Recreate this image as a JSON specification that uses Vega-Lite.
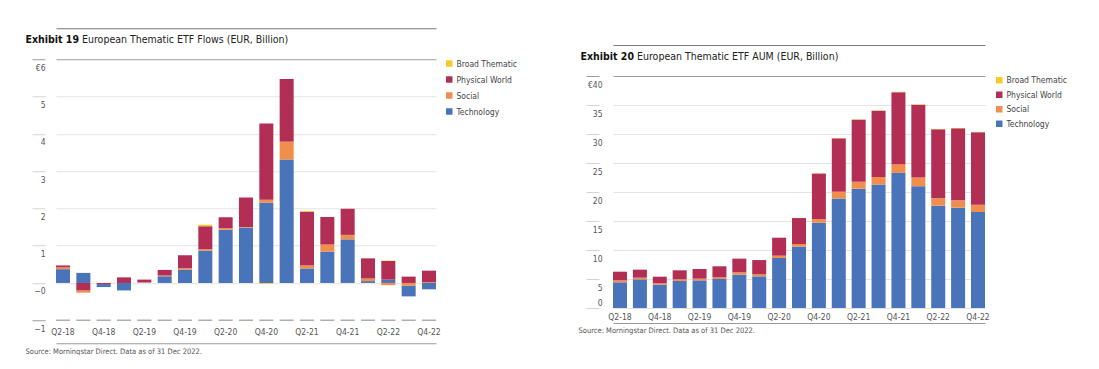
{
  "$schema": "https://vega.github.io/schema/vega-lite/v6.json",
  "padding": {"left": 25, "top": 28, "right": 0, "bottom": 0},
  "background": "white",
  "spacing": 60,
  "center": true,
  "config": {
    "font": "Liberation Sans Narrow, DejaVu Sans Condensed, Roboto, sans-serif",
    "view": {"stroke": null},
    "axis": {"labelFont": "Liberation Sans Narrow, DejaVu Sans Condensed, Roboto, sans-serif", "titleFont": "Liberation Sans Narrow, DejaVu Sans Condensed, Roboto, sans-serif", "labelColor": "#555555", "labelFontSize": 8.5, "titleFontWeight": "normal", "titleColor": "#222222", "titleFontSize": 10.5, "labelOverlap": false},
    "legend": {"labelFont": "Liberation Sans Narrow, DejaVu Sans Condensed, Roboto, sans-serif", "labelFontSize": 8.5, "labelColor": "#444444"}
  },
  "resolve": {"legend": {"color": "independent"}, "scale": {"color": "independent"}},
  "datasets": {
    "flows": [
      {"quarter": "Q2-18", "series": "Technology", "value": 0.37}, {"quarter": "Q2-18", "series": "Social", "value": 0.05}, {"quarter": "Q2-18", "series": "Physical World", "value": 0.05}, {"quarter": "Q2-18", "series": "Broad Thematic", "value": 0},
      {"quarter": "Q3-18", "series": "Technology", "value": 0.27}, {"quarter": "Q3-18", "series": "Social", "value": -0.06}, {"quarter": "Q3-18", "series": "Physical World", "value": -0.2}, {"quarter": "Q3-18", "series": "Broad Thematic", "value": 0},
      {"quarter": "Q4-18", "series": "Technology", "value": -0.08}, {"quarter": "Q4-18", "series": "Social", "value": 0}, {"quarter": "Q4-18", "series": "Physical World", "value": -0.03}, {"quarter": "Q4-18", "series": "Broad Thematic", "value": 0},
      {"quarter": "Q1-19", "series": "Technology", "value": -0.2}, {"quarter": "Q1-19", "series": "Social", "value": 0}, {"quarter": "Q1-19", "series": "Physical World", "value": 0.15}, {"quarter": "Q1-19", "series": "Broad Thematic", "value": 0},
      {"quarter": "Q2-19", "series": "Technology", "value": 0.01}, {"quarter": "Q2-19", "series": "Social", "value": 0.01}, {"quarter": "Q2-19", "series": "Physical World", "value": 0.07}, {"quarter": "Q2-19", "series": "Broad Thematic", "value": 0},
      {"quarter": "Q3-19", "series": "Technology", "value": 0.18}, {"quarter": "Q3-19", "series": "Social", "value": 0.02}, {"quarter": "Q3-19", "series": "Physical World", "value": 0.15}, {"quarter": "Q3-19", "series": "Broad Thematic", "value": 0},
      {"quarter": "Q4-19", "series": "Technology", "value": 0.36}, {"quarter": "Q4-19", "series": "Social", "value": 0.04}, {"quarter": "Q4-19", "series": "Physical World", "value": 0.34}, {"quarter": "Q4-19", "series": "Broad Thematic", "value": 0},
      {"quarter": "Q1-20", "series": "Technology", "value": 0.87}, {"quarter": "Q1-20", "series": "Social", "value": 0.04}, {"quarter": "Q1-20", "series": "Physical World", "value": 0.61}, {"quarter": "Q1-20", "series": "Broad Thematic", "value": 0.04},
      {"quarter": "Q2-20", "series": "Technology", "value": 1.43}, {"quarter": "Q2-20", "series": "Social", "value": 0.04}, {"quarter": "Q2-20", "series": "Physical World", "value": 0.29}, {"quarter": "Q2-20", "series": "Broad Thematic", "value": 0},
      {"quarter": "Q3-20", "series": "Technology", "value": 1.49}, {"quarter": "Q3-20", "series": "Social", "value": 0.01}, {"quarter": "Q3-20", "series": "Physical World", "value": 0.79}, {"quarter": "Q3-20", "series": "Broad Thematic", "value": 0},
      {"quarter": "Q4-20", "series": "Technology", "value": 2.15}, {"quarter": "Q4-20", "series": "Social", "value": 0.08}, {"quarter": "Q4-20", "series": "Physical World", "value": 2.05}, {"quarter": "Q4-20", "series": "Broad Thematic", "value": -0.02},
      {"quarter": "Q1-21", "series": "Technology", "value": 3.31}, {"quarter": "Q1-21", "series": "Social", "value": 0.48}, {"quarter": "Q1-21", "series": "Physical World", "value": 1.68}, {"quarter": "Q1-21", "series": "Broad Thematic", "value": 0},
      {"quarter": "Q2-21", "series": "Technology", "value": 0.39}, {"quarter": "Q2-21", "series": "Social", "value": 0.08}, {"quarter": "Q2-21", "series": "Physical World", "value": 1.44}, {"quarter": "Q2-21", "series": "Broad Thematic", "value": 0.02},
      {"quarter": "Q3-21", "series": "Technology", "value": 0.84}, {"quarter": "Q3-21", "series": "Social", "value": 0.19}, {"quarter": "Q3-21", "series": "Physical World", "value": 0.74}, {"quarter": "Q3-21", "series": "Broad Thematic", "value": 0},
      {"quarter": "Q4-21", "series": "Technology", "value": 1.17}, {"quarter": "Q4-21", "series": "Social", "value": 0.12}, {"quarter": "Q4-21", "series": "Physical World", "value": 0.7}, {"quarter": "Q4-21", "series": "Broad Thematic", "value": 0},
      {"quarter": "Q1-22", "series": "Technology", "value": 0.05}, {"quarter": "Q1-22", "series": "Social", "value": 0.07}, {"quarter": "Q1-22", "series": "Physical World", "value": 0.54}, {"quarter": "Q1-22", "series": "Broad Thematic", "value": 0},
      {"quarter": "Q2-22", "series": "Technology", "value": 0.09}, {"quarter": "Q2-22", "series": "Social", "value": -0.06}, {"quarter": "Q2-22", "series": "Physical World", "value": 0.5}, {"quarter": "Q2-22", "series": "Broad Thematic", "value": 0.01},
      {"quarter": "Q3-22", "series": "Technology", "value": -0.29}, {"quarter": "Q3-22", "series": "Social", "value": -0.07}, {"quarter": "Q3-22", "series": "Physical World", "value": 0.17}, {"quarter": "Q3-22", "series": "Broad Thematic", "value": 0},
      {"quarter": "Q4-22", "series": "Technology", "value": -0.17}, {"quarter": "Q4-22", "series": "Social", "value": 0.02}, {"quarter": "Q4-22", "series": "Physical World", "value": 0.31}, {"quarter": "Q4-22", "series": "Broad Thematic", "value": 0}
    ],
    "aum": [
      {"quarter": "Q2-18", "series": "Technology", "value": 4.43}, {"quarter": "Q2-18", "series": "Social", "value": 0.34}, {"quarter": "Q2-18", "series": "Physical World", "value": 1.49}, {"quarter": "Q2-18", "series": "Broad Thematic", "value": 0},
      {"quarter": "Q3-18", "series": "Technology", "value": 4.94}, {"quarter": "Q3-18", "series": "Social", "value": 0.29}, {"quarter": "Q3-18", "series": "Physical World", "value": 1.38}, {"quarter": "Q3-18", "series": "Broad Thematic", "value": 0},
      {"quarter": "Q4-18", "series": "Technology", "value": 4.02}, {"quarter": "Q4-18", "series": "Social", "value": 0.23}, {"quarter": "Q4-18", "series": "Physical World", "value": 1.15}, {"quarter": "Q4-18", "series": "Broad Thematic", "value": 0},
      {"quarter": "Q1-19", "series": "Technology", "value": 4.66}, {"quarter": "Q1-19", "series": "Social", "value": 0.29}, {"quarter": "Q1-19", "series": "Physical World", "value": 1.55}, {"quarter": "Q1-19", "series": "Broad Thematic", "value": 0},
      {"quarter": "Q2-19", "series": "Technology", "value": 4.77}, {"quarter": "Q2-19", "series": "Social", "value": 0.29}, {"quarter": "Q2-19", "series": "Physical World", "value": 1.67}, {"quarter": "Q2-19", "series": "Broad Thematic", "value": 0},
      {"quarter": "Q3-19", "series": "Technology", "value": 5.0}, {"quarter": "Q3-19", "series": "Social", "value": 0.29}, {"quarter": "Q3-19", "series": "Physical World", "value": 1.9}, {"quarter": "Q3-19", "series": "Broad Thematic", "value": 0},
      {"quarter": "Q4-19", "series": "Technology", "value": 5.75}, {"quarter": "Q4-19", "series": "Social", "value": 0.4}, {"quarter": "Q4-19", "series": "Physical World", "value": 2.36}, {"quarter": "Q4-19", "series": "Broad Thematic", "value": 0},
      {"quarter": "Q1-20", "series": "Technology", "value": 5.46}, {"quarter": "Q1-20", "series": "Social", "value": 0.34}, {"quarter": "Q1-20", "series": "Physical World", "value": 2.47}, {"quarter": "Q1-20", "series": "Broad Thematic", "value": 0.01},
      {"quarter": "Q2-20", "series": "Technology", "value": 8.62}, {"quarter": "Q2-20", "series": "Social", "value": 0.4}, {"quarter": "Q2-20", "series": "Physical World", "value": 3.1}, {"quarter": "Q2-20", "series": "Broad Thematic", "value": 0.02},
      {"quarter": "Q3-20", "series": "Technology", "value": 10.57}, {"quarter": "Q3-20", "series": "Social", "value": 0.46}, {"quarter": "Q3-20", "series": "Physical World", "value": 4.48}, {"quarter": "Q3-20", "series": "Broad Thematic", "value": 0.02},
      {"quarter": "Q4-20", "series": "Technology", "value": 14.7}, {"quarter": "Q4-20", "series": "Social", "value": 0.63}, {"quarter": "Q4-20", "series": "Physical World", "value": 7.85}, {"quarter": "Q4-20", "series": "Broad Thematic", "value": 0.03},
      {"quarter": "Q1-21", "series": "Technology", "value": 18.9}, {"quarter": "Q1-21", "series": "Social", "value": 1.15}, {"quarter": "Q1-21", "series": "Physical World", "value": 9.2}, {"quarter": "Q1-21", "series": "Broad Thematic", "value": 0.05},
      {"quarter": "Q2-21", "series": "Technology", "value": 20.57}, {"quarter": "Q2-21", "series": "Social", "value": 1.2}, {"quarter": "Q2-21", "series": "Physical World", "value": 10.7}, {"quarter": "Q2-21", "series": "Broad Thematic", "value": 0.06},
      {"quarter": "Q3-21", "series": "Technology", "value": 21.3}, {"quarter": "Q3-21", "series": "Social", "value": 1.3}, {"quarter": "Q3-21", "series": "Physical World", "value": 11.4}, {"quarter": "Q3-21", "series": "Broad Thematic", "value": 0.06},
      {"quarter": "Q4-21", "series": "Technology", "value": 23.3}, {"quarter": "Q4-21", "series": "Social", "value": 1.5}, {"quarter": "Q4-21", "series": "Physical World", "value": 12.4}, {"quarter": "Q4-21", "series": "Broad Thematic", "value": 0.07},
      {"quarter": "Q1-22", "series": "Technology", "value": 21.0}, {"quarter": "Q1-22", "series": "Social", "value": 1.5}, {"quarter": "Q1-22", "series": "Physical World", "value": 12.55}, {"quarter": "Q1-22", "series": "Broad Thematic", "value": 0.07},
      {"quarter": "Q2-22", "series": "Technology", "value": 17.64}, {"quarter": "Q2-22", "series": "Social", "value": 1.27}, {"quarter": "Q2-22", "series": "Physical World", "value": 11.9}, {"quarter": "Q2-22", "series": "Broad Thematic", "value": 0.06},
      {"quarter": "Q3-22", "series": "Technology", "value": 17.3}, {"quarter": "Q3-22", "series": "Social", "value": 1.27}, {"quarter": "Q3-22", "series": "Physical World", "value": 12.4}, {"quarter": "Q3-22", "series": "Broad Thematic", "value": 0.06},
      {"quarter": "Q4-22", "series": "Technology", "value": 16.55}, {"quarter": "Q4-22", "series": "Social", "value": 1.25}, {"quarter": "Q4-22", "series": "Physical World", "value": 12.5}, {"quarter": "Q4-22", "series": "Broad Thematic", "value": 0.06}
    ]
  },
  "hconcat": [
    {
      "width": 380,
      "height": 261,
      "data": {"name": "flows"},
      "resolve": {"axis": {"x": "independent"}},
      "layer": [
        {
          "transform": [{"filter": "datum.value >= 0"}],
          "mark": {"type": "bar"},
          "encoding": {
            "x": {"field": "quarter", "type": "nominal", "sort": null, "scale": {"paddingInner": 0.31, "paddingOuter": 0},
              "axis": {"orient": "bottom", "offset": 23, "values": ["Q2-18", "Q4-18", "Q2-19", "Q4-19", "Q2-20", "Q4-20", "Q2-21", "Q4-21", "Q2-22", "Q4-22"], "ticks": true, "tickSize": 0, "labelPadding": -16, "labelAngle": 0, "domainColor": "#9a9a9a", "domainWidth": 1, "grid": false,
                "title": "Source: Morningstar Direct. Data as of 31 Dec 2022.", "titleX": -31, "titleY": 8, "titleAlign": "left", "titleBaseline": "middle", "titleFontSize": 7.5, "titleColor": "#555555"}},
            "y": {"field": "value", "type": "quantitative", "stack": "zero", "scale": {"domain": [-1, 6], "nice": false, "zero": true},
              "axis": {"values": [-1, 0, 1, 2, 3, 4, 5, 6], "tickCount": 20, "format": "d", "offset": 11, "tickSize": 13, "domain": false,
                "labelAlign": "right", "labelBaseline": "top", "labelPadding": -13, "labelOffset": 4,
                "labelExpr": "datum.value == 6 ? '€6' : (datum.value == 0 ? '−0' : datum.label)",
                "gridColor": {"condition": {"test": "datum.value == 6", "value": "#9d9d9d"}, "value": "#e3e3e3"},
                "gridOpacity": {"condition": {"test": "datum.value == -1", "value": 0}, "value": 1},
                "tickColor": {"condition": {"test": "datum.value == 6 || datum.value == -1", "value": "#9d9d9d"}, "value": "#d4d4d4"},
                "title": "European Thematic ETF Flows (EUR, Billion)", "titleAngle": 0, "titleAlign": "left", "titleBaseline": "bottom", "titleX": 36.5, "titleY": -14.5}},
            "color": {"field": "series", "type": "nominal",
              "scale": {"domain": ["Broad Thematic", "Physical World", "Social", "Technology"], "range": ["#F7CA2A", "#B22E55", "#F28E4C", "#4A74B9"]},
              "legend": {"orient": "right", "offset": 9, "title": null, "symbolType": "square", "symbolSize": 42, "symbolStrokeWidth": 0, "rowPadding": 7, "labelOffset": 3}},
            "order": {"field": "series", "sort": "descending"}
          }
        },
        {
          "transform": [{"filter": "datum.value < 0"}],
          "mark": {"type": "bar"},
          "encoding": {
            "x": {"field": "quarter", "type": "nominal", "sort": null, "axis": null},
            "y": {"field": "value", "type": "quantitative", "stack": "zero"},
            "color": {"field": "series", "type": "nominal"},
            "order": {"field": "series", "sort": "ascending"}
          }
        },
        {
          "transform": [{"filter": "datum.series == 'Technology'"}],
          "mark": {"type": "tick", "size": 14, "thickness": 1.5, "color": "#8c8c8c"},
          "encoding": {
            "x": {"field": "quarter", "type": "nominal", "sort": null,
              "axis": {"orient": "top", "offset": 31, "labels": false, "ticks": false, "grid": false, "domainColor": "#7a7a7a", "domainWidth": 1.2,
                "title": "Exhibit 19", "titleFontWeight": "bold", "titleColor": "#111111", "titleX": -31, "titleY": 16.5, "titleAlign": "left", "titleBaseline": "bottom"}},
            "y": {"datum": -1}
          }
        }
      ]
    },
    {
      "width": 372,
      "height": 232,
      "data": {"name": "aum"},
      "resolve": {"axis": {"x": "independent"}},
      "layer": [
        {
          "mark": {"type": "bar"},
          "encoding": {
            "x": {"field": "quarter", "type": "nominal", "sort": null, "scale": {"paddingInner": 0.296, "paddingOuter": 0},
              "axis": {"orient": "bottom", "offset": 15, "values": ["Q2-18", "Q4-18", "Q2-19", "Q4-19", "Q2-20", "Q4-20", "Q2-21", "Q4-21", "Q2-22", "Q4-22"], "ticks": true, "tickSize": 0, "labelPadding": -11, "labelAngle": 0, "domainColor": "#9a9a9a", "domainWidth": 1, "grid": false,
                "title": ["Source: Morningstar Direct. Data as of 31 Dec 2022.", ""], "titleLineHeight": 4, "titleX": -35, "titleY": 3.5, "titleAlign": "left", "titleBaseline": "top", "titleFontSize": 7.5, "titleColor": "#555555"}},
            "y": {"field": "value", "type": "quantitative", "stack": "zero", "scale": {"domain": [0, 40], "nice": false},
              "axis": {"values": [0, 5, 10, 15, 20, 25, 30, 35, 40], "tickCount": 20, "format": "d", "offset": 14, "tickSize": 13, "domain": false,
                "labelAlign": "right", "labelBaseline": {"condition": {"test": "datum.value == 0", "value": "bottom"}, "value": "top"}, "labelPadding": -16,
                "labelOffset": {"condition": {"test": "datum.value == 0", "value": -1}, "value": 4},
                "labelExpr": "datum.value == 40 ? '€40' : datum.label",
                "gridColor": {"condition": {"test": "datum.value == 40", "value": "#9d9d9d"}, "value": "#e3e3e3"},
                "tickColor": {"condition": {"test": "datum.value == 40", "value": "#9d9d9d"}, "value": "#d4d4d4"},
                "title": "European Thematic ETF AUM (EUR, Billion)", "titleAngle": 0, "titleAlign": "left", "titleBaseline": "bottom", "titleX": 37.5, "titleY": -15}},
            "color": {"field": "series", "type": "nominal",
              "scale": {"domain": ["Broad Thematic", "Physical World", "Social", "Technology"], "range": ["#F7CA2A", "#B22E55", "#F28E4C", "#4A74B9"]},
              "legend": {"orient": "right", "offset": 10, "title": null, "symbolType": "square", "symbolSize": 42, "symbolStrokeWidth": 0, "rowPadding": 5.5, "labelOffset": 3}},
            "order": {"field": "series", "sort": "descending"}
          }
        },
        {
          "transform": [{"filter": "datum.series == 'Technology'"}],
          "mark": {"type": "tick", "size": 14, "thickness": 1, "color": "#dcdcdc", "opacity": 0},
          "encoding": {
            "x": {"field": "quarter", "type": "nominal", "sort": null,
              "axis": {"orient": "top", "offset": 31, "labels": false, "ticks": false, "grid": false, "domainColor": "#7a7a7a", "domainWidth": 1.2,
                "title": "Exhibit 20", "titleFontWeight": "bold", "titleColor": "#111111", "titleX": -33, "titleY": 16.5, "titleAlign": "left", "titleBaseline": "bottom"}},
            "y": {"datum": 0}
          }
        }
      ]
    }
  ]
}
